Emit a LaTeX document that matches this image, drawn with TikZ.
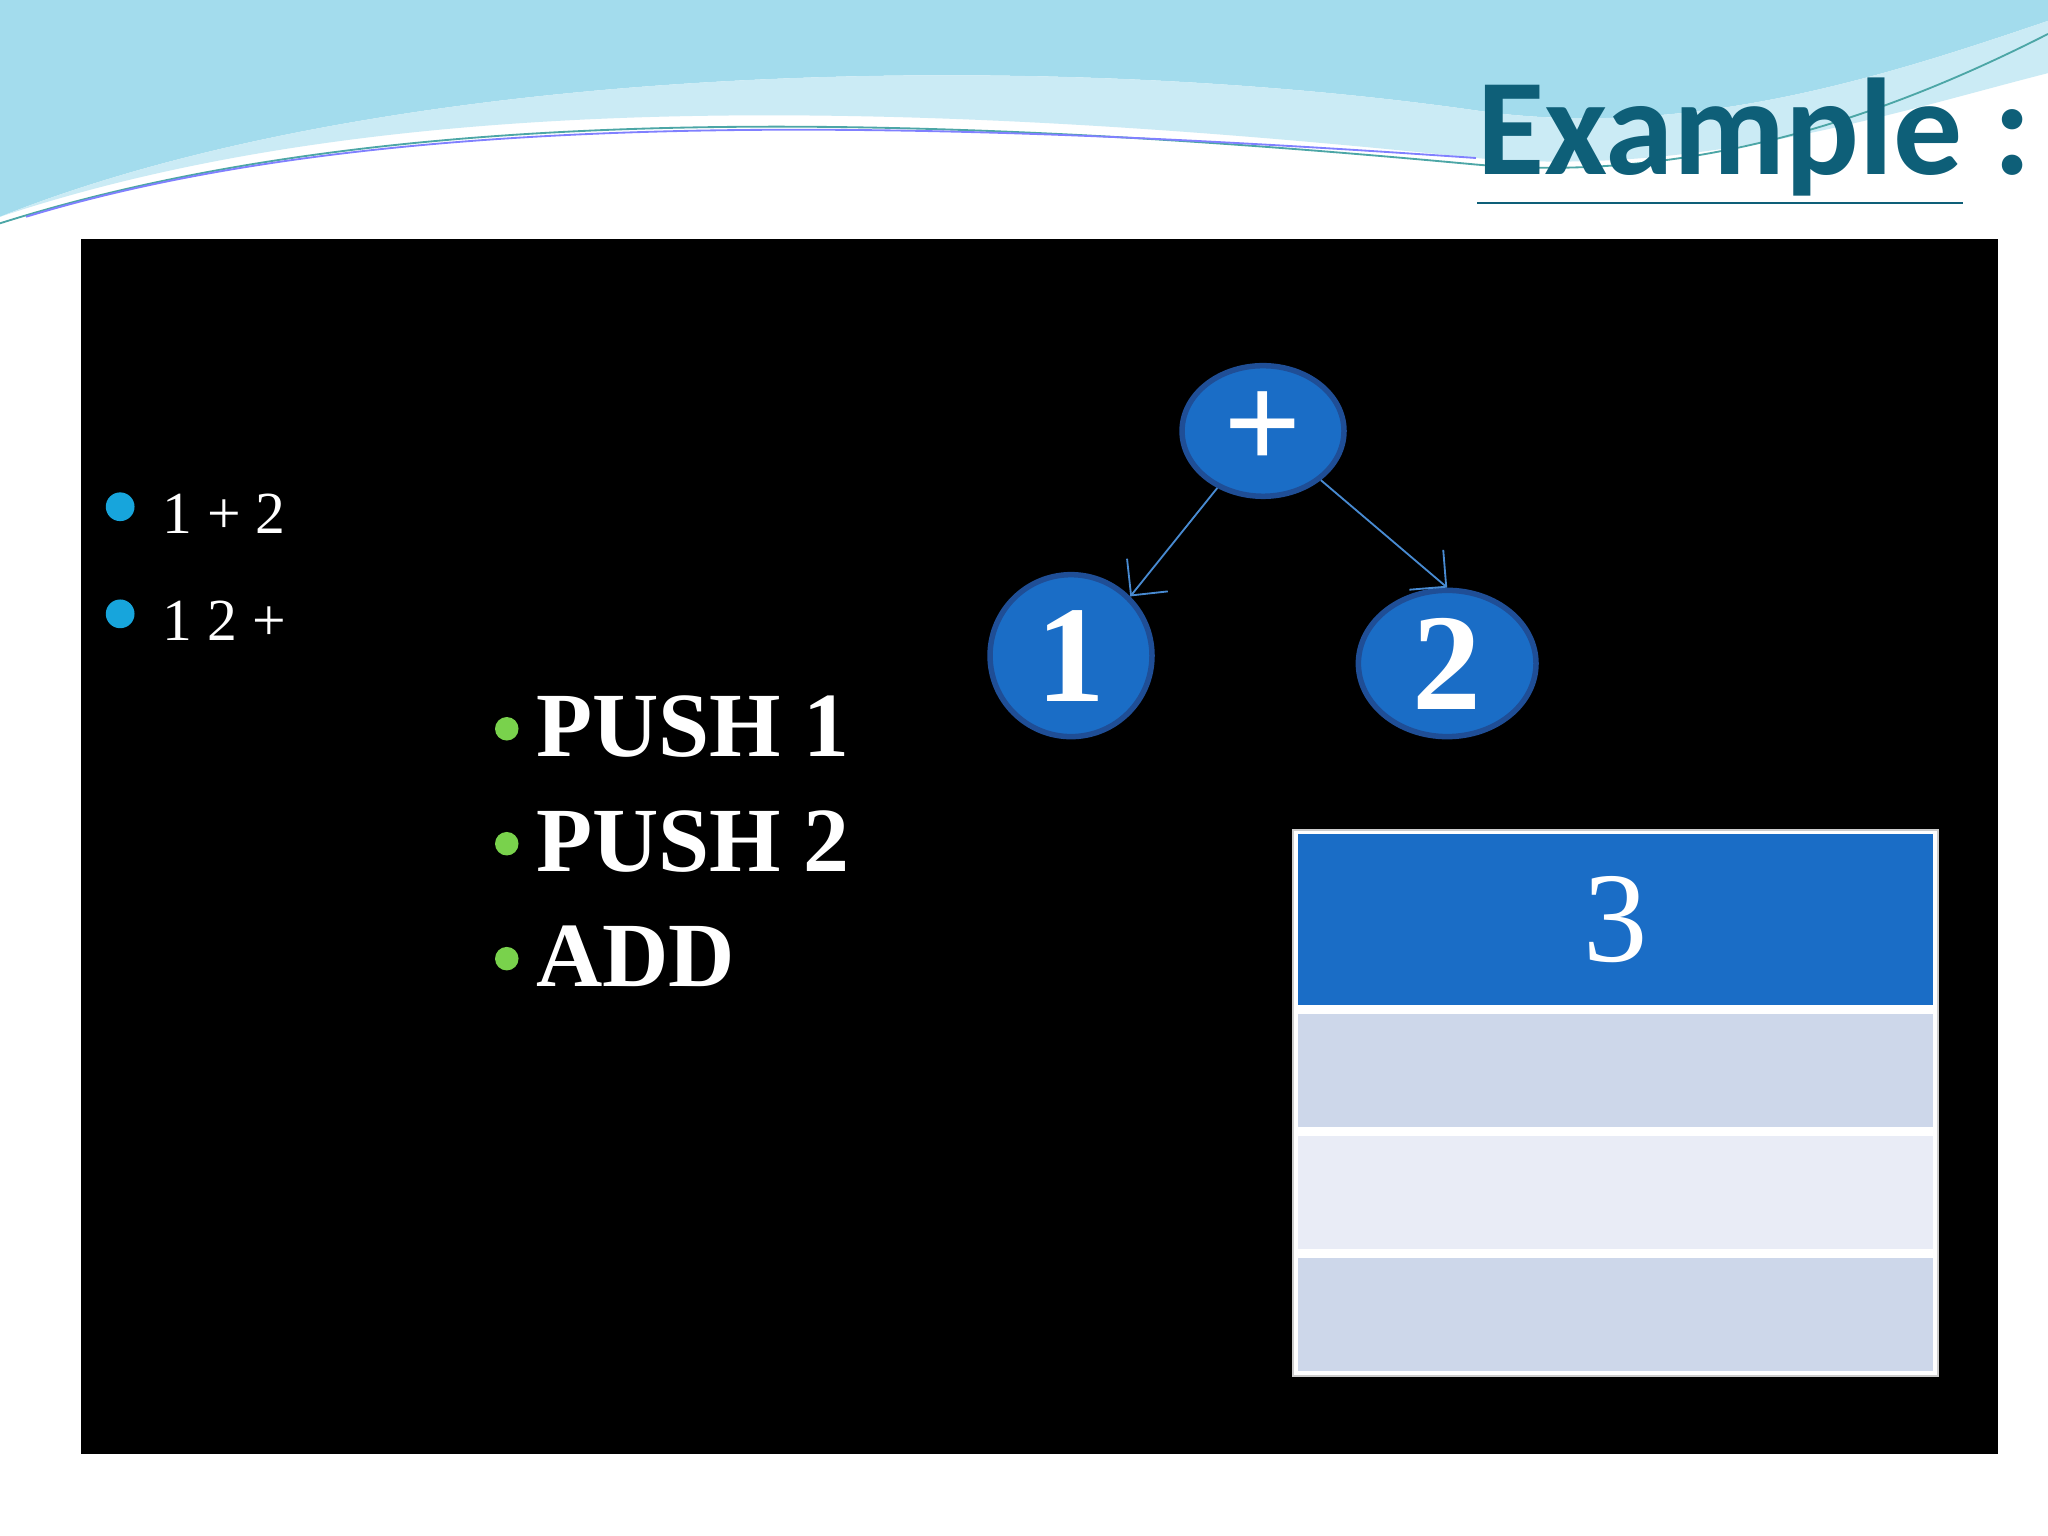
\documentclass[tikz,border=0pt]{standalone}
\usepackage{fontspec}
\setmainfont{Liberation Serif}
\newfontfamily\titlefont{Carlito}
\usetikzlibrary{positioning,arrows.meta}
\definecolor{nodeblue}{HTML}{1A6DC6}
\definecolor{nodeedge}{HTML}{1F4E96}
\definecolor{titleteal}{HTML}{0E5F78}
\definecolor{rowa}{HTML}{CDD7EA}
\definecolor{rowb}{HTML}{E9ECF6}
\definecolor{wave}{HTML}{7CCDE6}
\tikzset{
  treenode/.style={ellipse, fill=nodeblue, draw=nodeedge, line width=1.2pt,
    text=white, font=\bfseries\fontsize{30}{30}\selectfont},
  treeedge/.style={draw=nodeblue!80!white, thin, -{Straight Barb[length=2mm]}},
  cellbox/.style={draw=white, line width=1pt, minimum width=4.9cm, inner sep=0pt},
  smallitem/.style={text=white, anchor=west, font=\fontsize{13}{13}\selectfont},
  bigitem/.style={text=white, anchor=west, font=\bfseries\fontsize{20}{20}\selectfont}
}
\usetikzlibrary{shapes.geometric}
\begin{document}
\begin{tikzpicture}[x=1cm,y=1cm]
\useasboundingbox (0,0) rectangle (15.68,11.76);
\fill[white] (0,0) rectangle (15.68,11.76);
% top wave
\fill[wave!70!white] (0,11.76) -- (0,10.1) .. controls (3,11.3) and (8,11.4) .. (11.4,10.9)
  .. controls (13,10.7) and (14.5,11.2) .. (15.68,11.6) -- (15.68,11.76) -- cycle;
\fill[wave!40!white] (0,10.1) .. controls (3,11.1) and (7,11) .. (11.3,10.55)
  .. controls (13,10.4) and (14.5,10.9) .. (15.68,11.2) -- (15.68,11.6)
  .. controls (14.5,11.2) and (13,10.7) .. (11.4,10.9)
  .. controls (8,11.4) and (3,11.3) .. (0,10.1);
\draw[teal!70, thin] (0,10.05) .. controls (3,11) and (7,10.9) .. (11.3,10.5)
  .. controls (13,10.35) and (14.5,10.9) .. (15.68,11.5);
\draw[blue!50, thin] (0.2,10.1) .. controls (3,10.95) and (7,10.85) .. (11.3,10.55);
% title
\node[text=titleteal, anchor=base east, font=\titlefont\bfseries\fontsize{30}{30}\selectfont]
  (title) at (15.68,10.42) {\underline{Example} :};
% black panel
\fill[black] (0.62,0.63) rectangle (15.30,9.93);
% small bullets
\foreach \y/\t [count=\i] in {7.88/{1 + 2}, 7.06/{1 2 +}} {
  \fill[cyan!80!teal] (0.92,\y) circle (0.11);
  \node[smallitem] (expr\i) at (1.12,\y-0.05) {\t};
}
% instructions
\foreach \y/\t [count=\i] in {6.18/{PUSH 1}, 5.30/{PUSH 2}, 4.42/{ADD}} {
  \fill[green!50!olive!70!white] (3.88,\y) circle (0.09);
  \node[bigitem] (ins\i) at (3.98,\y+0.02) {\t};
}
% tree
\node[treenode, minimum width=1.24cm, minimum height=1.0cm, inner sep=0pt] (plus) at (9.67,8.46) {\textbf{+}};
\node[treenode, minimum width=1.24cm, minimum height=1.24cm, inner sep=0pt] (one) at (8.20,6.74) {1};
\node[treenode, minimum width=1.36cm, minimum height=1.12cm, inner sep=0pt] (two) at (11.08,6.68) {2};
\draw[treeedge] (plus) -- (one.north east);
\draw[treeedge] (plus) -- (two.north);
% stack
\node[cellbox, fill=nodeblue, minimum height=1.34cm, text=white,
  font=\fontsize{28}{28}\selectfont] (top) at (12.37,4.72) {3};
\node[cellbox, fill=rowa, minimum height=0.90cm, below=0pt of top] (rowone) {};
\node[cellbox, fill=rowb, minimum height=0.90cm, below=0pt of rowone] (rowtwo) {};
\node[cellbox, fill=rowa, minimum height=0.90cm, below=0pt of rowtwo] (rowthree) {};
\draw[gray!40] (top.north west) rectangle (rowthree.south east);
\end{tikzpicture}
\end{document}
